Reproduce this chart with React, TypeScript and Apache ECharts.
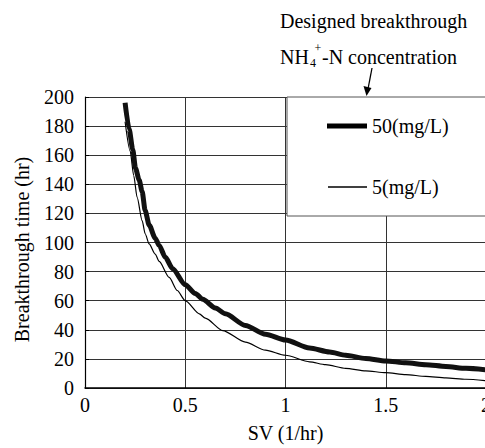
import React, { useEffect, useRef } from "react";
import * as echarts from "echarts";

const sv50 = [0.2, 0.22, 0.238, 0.252, 0.27, 0.285, 0.3, 0.32, 0.35, 0.37, 0.4, 0.437, 0.5, 0.55, 0.587, 0.65, 0.7, 0.8, 0.9, 1.0, 1.12, 1.22, 1.3, 1.4, 1.5, 1.6, 1.7, 1.8, 1.9, 2.0];
const time50 = [196, 178, 164, 151, 143, 135, 122, 112, 103, 98, 90, 82, 71, 65, 61, 55, 51, 43, 37, 33, 27.5, 24.7, 22.5, 20.3, 18.6, 17.3, 16, 14.8, 13.5, 12.4];

const sv5 = [0.2, 0.225, 0.243, 0.26, 0.285, 0.3, 0.32, 0.35, 0.37, 0.42, 0.46, 0.5, 0.57, 0.6, 0.687, 0.8, 0.9, 1.0, 1.12, 1.2, 1.3, 1.4, 1.5, 1.6, 1.7, 1.8, 1.9, 2.0];
const time5 = [183, 163, 146, 131, 115, 106, 99, 92, 87, 76, 67, 60, 51, 48, 39.5, 31.5, 26, 22.5, 18, 16, 13.5, 11.8, 10.5, 9.2, 8, 7, 6, 5];

const seriesNames = ["50(mg/L)", "5(mg/L)"];
const annotationLine1 = "Designed breakthrough";
const xName = "SV (1/hr)";
const yName = "Breakthrough time (hr)";

const FONT = "Liberation Serif";

const zip = (xs: number[], ys: number[]) => xs.map((x, i) => [x, ys[i]]);

export default function App() {
  const ref = useRef<HTMLDivElement>(null);
  useEffect(() => {
    if (!ref.current) return;
    const chart = echarts.init(ref.current, undefined, { renderer: "svg" });
    const textBase = { fontFamily: FONT, fill: "#000" };
    chart.setOption({
      animation: false,
      backgroundColor: "#fff",
      grid: { left: 85, top: 97, width: 401, height: 294, containLabel: false },
      xAxis: {
        type: "value",
        min: 0,
        max: 2,
        interval: 0.5,
        name: xName,
        nameLocation: "middle",
        nameGap: 35,
        nameTextStyle: { fontFamily: FONT, fontSize: 20, color: "#000" },
        axisLine: { show: true, lineStyle: { color: "#000", width: 1.5 } },
        axisTick: { show: false },
        axisLabel: { fontFamily: FONT, fontSize: 20, color: "#000", margin: 7 },
        splitLine: { show: true, lineStyle: { color: "#333", width: 1 } },
      },
      yAxis: {
        type: "value",
        min: 0,
        max: 200,
        interval: 20,
        name: yName,
        nameLocation: "middle",
        nameGap: 53,
        nameTextStyle: { fontFamily: FONT, fontSize: 20, color: "#000", padding: [0, 0, 0, -14] },
        axisLine: { show: true, lineStyle: { color: "#000", width: 1.2 } },
        axisTick: { show: true, inside: true, length: 4, lineStyle: { color: "#000" } },
        axisLabel: { fontFamily: FONT, fontSize: 20, color: "#000", margin: 11 },
        splitLine: { show: true, lineStyle: { color: "#333", width: 1 } },
      },
      legend: [
        {
          data: [{ name: seriesNames[0], icon: "rect" }],
          left: 327,
          top: 116,
          padding: 0,
          itemWidth: 40,
          itemHeight: 5,
          z: 10,
          textStyle: { fontFamily: FONT, fontSize: 20, color: "#000" },
        },
        {
          data: [{ name: seriesNames[1], icon: "rect" }],
          left: 328,
          top: 177,
          padding: 0,
          itemWidth: 39,
          itemHeight: 1.3,
          z: 10,
          textStyle: { fontFamily: FONT, fontSize: 20, color: "#000" },
        },
      ],
      series: [
        {
          name: seriesNames[1],
          type: "line",
          data: zip(sv5, time5),
          symbol: "none",
          smooth: 0.25,
          smoothMonotone: "x",
          color: "#000",
          lineStyle: { color: "#000", width: 1.2 },
          z: 3,
        },
        {
          name: seriesNames[0],
          type: "line",
          data: zip(sv50, time50),
          symbol: "none",
          smooth: 0.25,
          smoothMonotone: "x",
          color: "#000",
          lineStyle: { color: "#111", width: 5 },
          z: 4,
        },
      ],
      graphic: [
        {
          type: "rect",
          z: 5,
          shape: { x: 287, y: 97, width: 220, height: 119 },
          style: { fill: "#fff", stroke: "#555", lineWidth: 1 },
        },
        {
          type: "text",
          x: 280,
          y: 21,
          style: { ...textBase, text: annotationLine1, fontSize: 20, verticalAlign: "middle" },
        },
        {
          type: "text",
          x: 280,
          y: 57,
          style: { ...textBase, text: "NH", fontSize: 20, verticalAlign: "middle" },
        },
        {
          type: "text",
          x: 310,
          y: 63,
          style: { ...textBase, text: "4", fontSize: 12, verticalAlign: "middle" },
        },
        {
          type: "text",
          x: 314.5,
          y: 48,
          style: { ...textBase, text: "+", fontSize: 12, verticalAlign: "middle" },
        },
        {
          type: "text",
          x: 322,
          y: 57,
          style: { ...textBase, text: "-N concentration", fontSize: 20, verticalAlign: "middle" },
        },
        {
          type: "line",
          shape: { x1: 372, y1: 68, x2: 368, y2: 89 },
          style: { stroke: "#000", lineWidth: 1.3 },
        },
        {
          type: "polygon",
          shape: { points: [[363.5, 86], [371.5, 88], [366.5, 96]] },
          style: { fill: "#000" },
        },
      ],
    });
    return () => chart.dispose();
  }, []);
  return (
    <div style={{ position: "fixed", left: 0, top: 0, width: 485, height: 448, overflow: "hidden" }}>
      <div ref={ref} style={{ width: 520, height: 448 }} />
    </div>
  );
}
